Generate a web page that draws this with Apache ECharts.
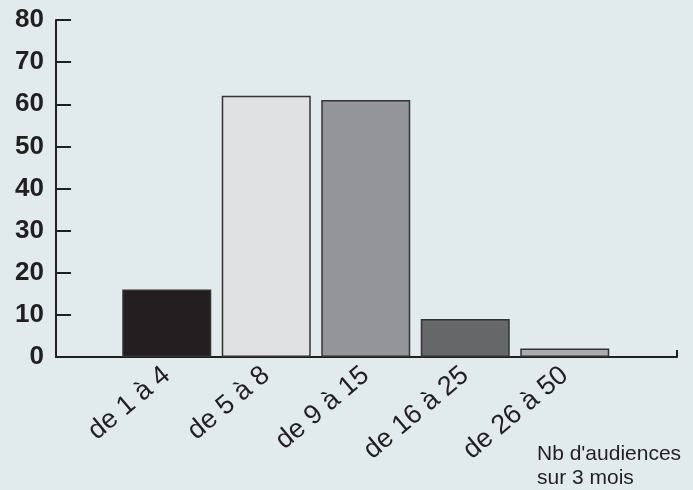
<!DOCTYPE html>
<html>
<head>
<meta charset="utf-8">
<script src="https://cdn.jsdelivr.net/npm/echarts@6/dist/echarts.min.js"></script>
<style>
html,body{margin:0;padding:0;background:#e1eaed;}
#chart{width:693px;height:490px;}
</style>
</head>
<body>
<div id="chart"></div>
<script>
const categories = ["de 1 à 4", "de 5 à 8", "de 9 à 15", "de 16 à 25", "de 26 à 50"];
const values = [16, 62, 61, 9, 2];
const barColors = ["#231f20", "#e0e1e3", "#939598", "#666769", "#a9abae"];
const yTicks = { min: 0, max: 80, interval: 10 };
const axisTitle = "Nb d'audiences\nsur 3 mois";

const chart = echarts.init(document.getElementById('chart'));
const axisColor = "#231f20";
chart.setOption({
  backgroundColor: "#e1eaed",
  animation: false,
  title: {
    text: axisTitle,
    left: 532, top: 437,
    textStyle: { fontFamily: "Liberation Sans, Arial", fontSize: 21, fontWeight: "normal", color: axisColor, lineHeight: 24 }
  },
  grid: [
    { left: 56, right: 16, top: 20, bottom: 133 },
    { left: 117, right: 78.5, top: 20, bottom: 133 }
  ],
  xAxis: [
    { gridIndex: 0, type: "value", min: 0, max: 1, interval: 1,
      axisLine: { show: true, lineStyle: { color: axisColor, width: 2 } },
      axisTick: { show: true, inside: true, length: 7, lineStyle: { color: axisColor, width: 2 } },
      axisLabel: { show: false }, splitLine: { show: false } },
    { gridIndex: 1, type: "category", data: categories,
      axisLine: { show: false }, axisTick: { show: false },
      axisLabel: { rotate: 40, margin: 15, interval: 0, fontFamily: "Liberation Sans, Arial", fontSize: 27, color: axisColor } }
  ],
  yAxis: [
    { gridIndex: 0, type: "value", min: yTicks.min, max: yTicks.max, interval: yTicks.interval,
      axisLine: { show: true, lineStyle: { color: axisColor, width: 2 } },
      axisTick: { show: true, inside: true, length: 15, lineStyle: { color: axisColor, width: 2 } },
      axisLabel: { margin: 12, fontFamily: "Liberation Sans, Arial", fontSize: 26, fontWeight: "bold", color: axisColor },
      splitLine: { show: false } },
    { gridIndex: 1, type: "value", min: yTicks.min, max: yTicks.max, interval: yTicks.interval, show: false }
  ],
  series: [{
    type: "bar", xAxisIndex: 1, yAxisIndex: 1, barWidth: 89,
    data: values.map((v, i) => ({ value: v, itemStyle: { color: barColors[i], borderColor: "#333333", borderWidth: 1.5 } }))
  }]
});
</script>
</body>
</html>
